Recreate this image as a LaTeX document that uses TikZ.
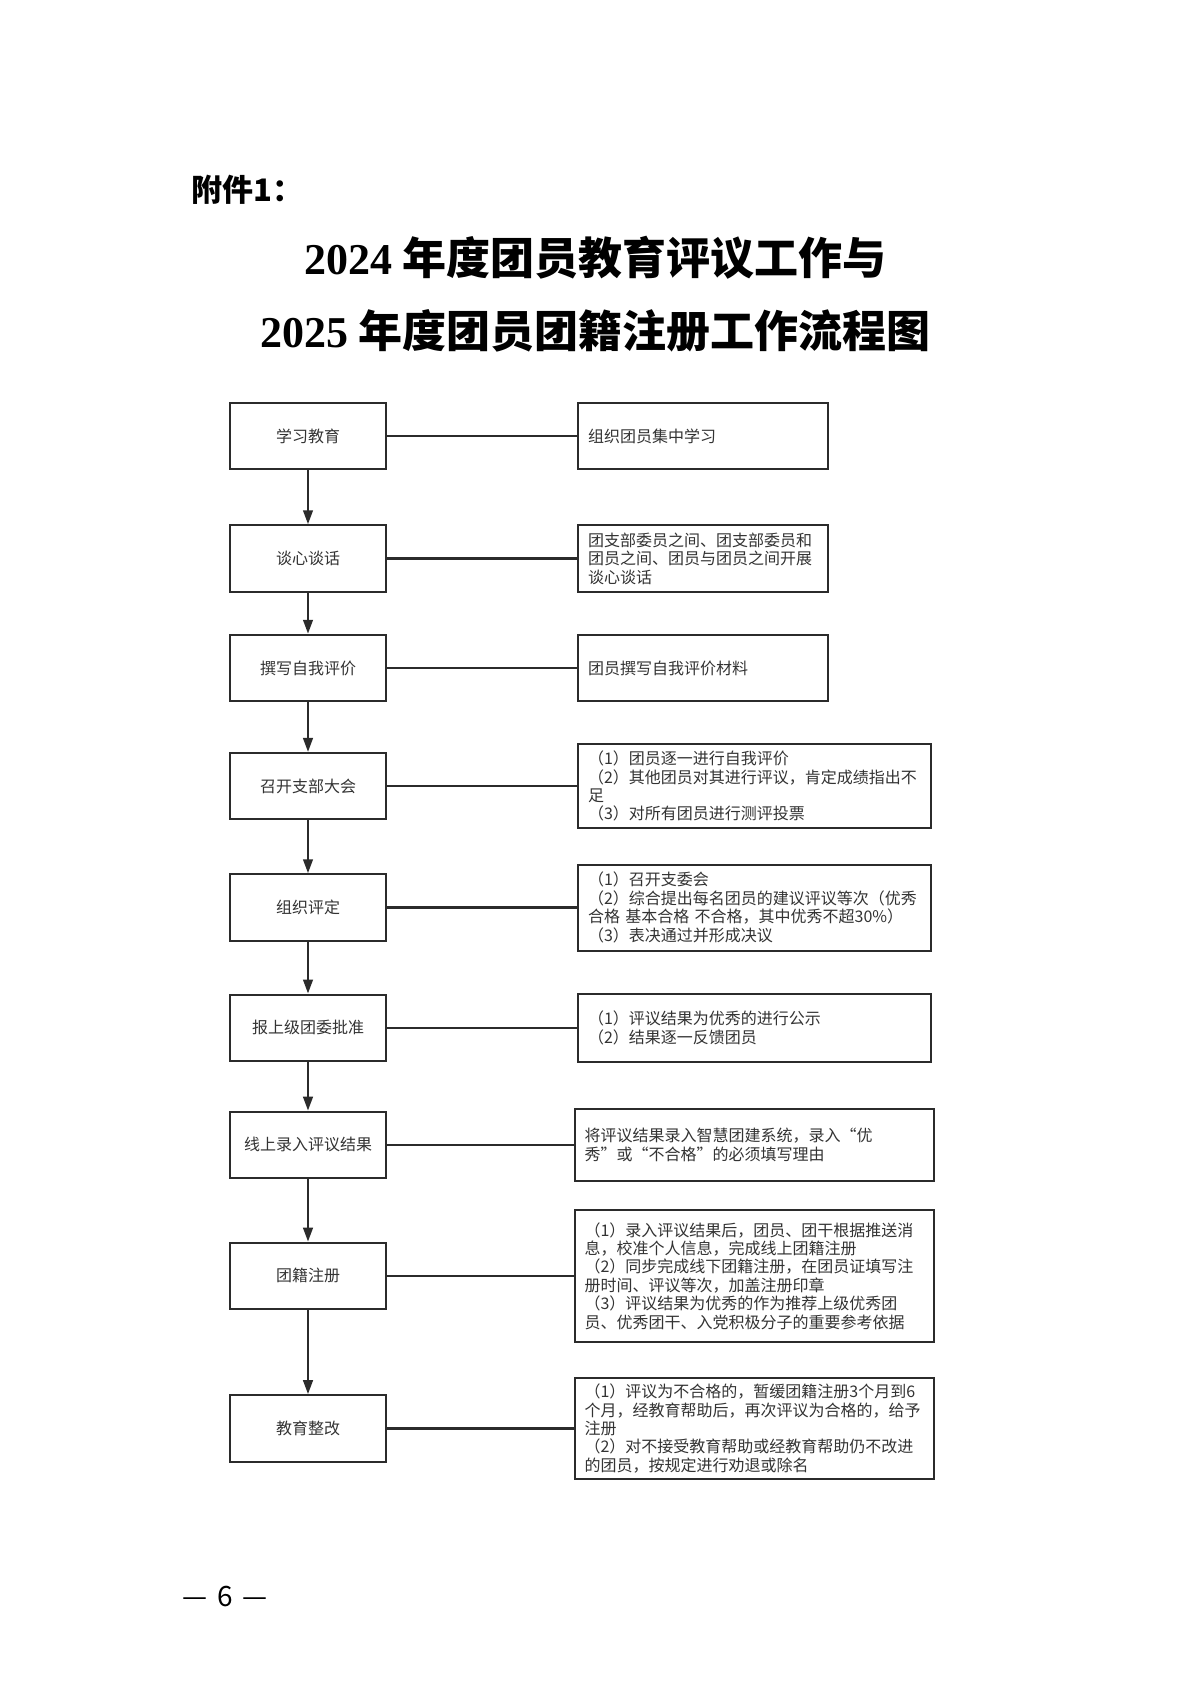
\documentclass[tikz,border=0pt]{standalone}
\usepackage{fontspec}
\setmainfont{Noto Sans CJK SC}
\newfontfamily\numfont{Liberation Serif}
\usetikzlibrary{arrows.meta}
\definecolor{ink}{HTML}{333333}
\definecolor{frame}{HTML}{2B2B2B}
\tikzset{
  stepbox/.style={draw=frame, line width=1pt, minimum width=78pt, minimum height=33.25pt,
    inner sep=0pt, text=ink, font=\fontsize{8}{9.2}\selectfont},
  notebox/.style={draw=frame, line width=1pt, anchor=west, align=left, inner xsep=5pt,
    inner ysep=0pt, text=ink, font=\fontsize{8}{9.2}\selectfont},
  link/.style={frame, line width=1.2pt},
  flow/.style={link, -{Triangle[length=7pt,width=4.8pt]}}
}

\begin{document}
\begin{tikzpicture}[x=0.5pt,y=-0.5pt]
  \fill[white] (0,0) rectangle (1191,1684);
  \useasboundingbox (0,0) rectangle (1191,1684);

  \node[anchor=west, inner sep=0pt, font=\fontsize{15.5}{18}\selectfont\bfseries] (annex) at (191,190) {附件1：};
  \node[font=\fontsize{22}{26}\selectfont\bfseries] (title1) at (595.5,258)
    {{\numfont 2024}\hspace{5pt}年度团员教育评议工作与};
  \node[font=\fontsize{22}{26}\selectfont\bfseries] (title2) at (595.5,331)
    {{\numfont 2025}\hspace{5pt}年度团员团籍注册工作流程图};

  \node[stepbox] (learn) at (308,436) {学习教育};
  \node[notebox, text width=115pt, minimum height=33.25pt] (learn-note) at (577,436)
    {组织团员集中学习};

  \node[stepbox] (talk) at (308,558.5) {谈心谈话};
  \node[notebox, text width=115pt, minimum height=33.25pt] (talk-note) at (577,558.5)
    {团支部委员之间、团支部委员和\\团员之间、团员与团员之间开展\\谈心谈话};

  \node[stepbox] (write) at (308,668) {撰写自我评价};
  \node[notebox, text width=115pt, minimum height=33.25pt] (write-note) at (577,668)
    {团员撰写自我评价材料};

  \node[stepbox] (meeting) at (308,786.2) {召开支部大会};
  \node[notebox, text width=166.5pt, minimum height=41.9pt] (meeting-note) at (577,786.2)
    {（1）团员逐一进行自我评价\\（2）其他团员对其进行评议，肯定成绩指出不\\足\\（3）对所有团员进行测评投票};

  \node[stepbox] (rating) at (308,907.5) {组织评定};
  \node[notebox, text width=166.5pt, minimum height=43pt] (rating-note) at (577,907.5)
    {（1）召开支委会\\（2）综合提出每名团员的建议评议等次（优秀\\合格 基本合格 不合格，其中优秀不超30\%）\\（3）表决通过并形成决议};

  \node[stepbox] (approve) at (308,1027.8) {报上级团委批准};
  \node[notebox, text width=166.5pt, minimum height=33.8pt] (approve-note) at (577,1027.8)
    {（1）评议结果为优秀的进行公示\\（2）结果逐一反馈团员};

  \node[stepbox] (online) at (308,1144.9) {线上录入评议结果};
  \node[notebox, text width=169.75pt, minimum height=36pt] (online-note) at (573.5,1144.9)
    {将评议结果录入智慧团建系统，录入“优\\秀”或“不合格”的必须填写理由};

  \node[stepbox] (register) at (308,1275.9) {团籍注册};
  \node[notebox, text width=169.75pt, minimum height=66pt] (register-note) at (573.5,1275.9)
    {（1）录入评议结果后，团员、团干根据推送消\\息，校准个人信息，完成线上团籍注册\\（2）同步完成线下团籍注册，在团员证填写注\\册时间、评议等次，加盖注册印章\\（3）评议结果为优秀的作为推荐上级优秀团\\员、优秀团干、入党积极分子的重要参考依据};

  \node[stepbox] (rectify) at (308,1428.4) {教育整改};
  \node[notebox, text width=169.75pt, minimum height=50.5pt] (rectify-note) at (573.5,1428.4)
    {（1）评议为不合格的，暂缓团籍注册3个月到6\\个月，经教育帮助后，再次评议为合格的，给予\\注册\\（2）对不接受教育帮助或经教育帮助仍不改进\\的团员，按规定进行劝退或除名};

  \foreach \a/\b in {learn/talk, talk/write, write/meeting, meeting/rating,
      rating/approve, approve/online, online/register, register/rectify}
    \draw[flow] (\a) -- (\b);
  \foreach \a in {learn, talk, write, meeting, rating, approve, online, register, rectify}
    \draw[link] (\a) -- (\a-note);

  \node[font=\fontsize{14}{16}\selectfont] (pageno) at (225,1596) {—\hspace{5pt}6\hspace{5pt}—};
\end{tikzpicture}
\end{document}
